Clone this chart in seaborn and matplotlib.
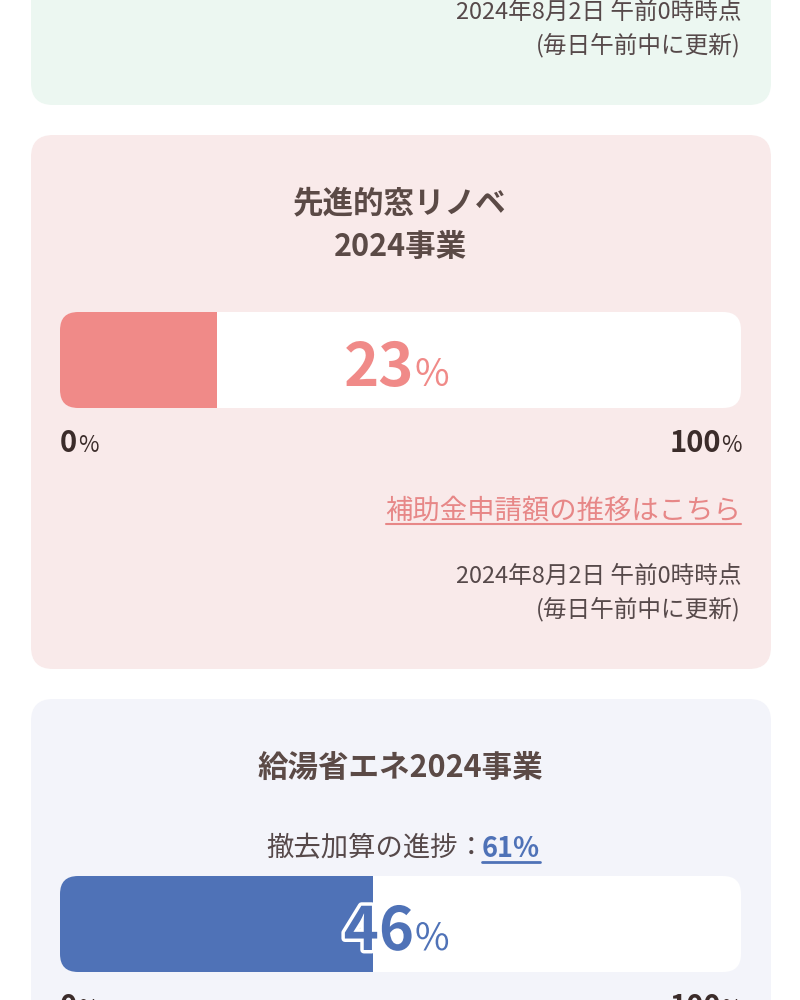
import matplotlib
matplotlib.use("Agg")
import matplotlib.pyplot as plt
import matplotlib.patheffects as pe
from matplotlib.patches import FancyBboxPatch
import seaborn as sns
import pandas as pd

# =====================================================
# DATA
# =====================================================

programs = ["先進的窓リノベ\n2024事業", "給湯省エネ2024事業"]
progress = [23, 46]
removal_label = "撤去加算の進捗："
removal_progress = 61
link_label = "補助金申請額の推移はこちら"
updated_at = "2024年8月2日 午前0時時点"
updated_note = "(毎日午前中に更新)"

# =====================================================
# STYLE
# =====================================================

sns.set_theme(style="white")
plt.rcParams["font.family"] = ["Noto Sans CJK JP", "DejaVu Sans"]

TITLE = "#5b4a46"
DARK = "#3b2c2a"
NOTE = "#56494a"
PINK = "#f08a88"
LINK = "#e78787"
BLUE = "#4f72b7"

fig = plt.figure(figsize=(8, 10), dpi=100)
fig.patch.set_facecolor("white")

# background layer (pixel coordinates, y down)
ax_bg = fig.add_axes([0, 0, 1, 1], zorder=0)
ax_bg.set_xlim(0, 800)
ax_bg.set_ylim(1000, 0)
ax_bg.axis("off")

# text layer on top of everything
ax_fg = fig.add_axes([0, 0, 1, 1], zorder=3)
ax_fg.set_xlim(0, 800)
ax_fg.set_ylim(1000, 0)
ax_fg.axis("off")
ax_fg.patch.set_alpha(0)


def panel(y0, y1, color):
    ax_bg.add_patch(FancyBboxPatch(
        (31, y0), 740, y1 - y0,
        boxstyle="round,pad=0,rounding_size=22",
        facecolor=color, edgecolor="none"
    ))


def progress_bar(top, value, color, outline=False):
    track = FancyBboxPatch(
        (60, top), 681, 96,
        boxstyle="round,pad=0,rounding_size=18",
        facecolor="white", edgecolor="none",
        transform=ax_bg.transData
    )
    ax_bg.add_patch(track)

    ax = fig.add_axes([60 / 800, 1 - (top + 96) / 1000, 681 / 800, 96 / 1000], zorder=2)
    df = pd.DataFrame({"value": [value], "bar": ["p"]})
    sns.barplot(data=df, x="value", y="bar", orient="h", color=color,
                saturation=1, width=1.0, linewidth=0, ax=ax)
    ax.set_xlim(0, 100)
    ax.set_ylim(0.5, -0.5)
    ax.axis("off")
    ax.patch.set_alpha(0)
    for p in ax.patches:
        p.set_clip_path(track)

    base = top + 74
    fx = [pe.withStroke(linewidth=5, foreground="white")] if outline else None
    ax_fg.text(414, base, f"{value}", ha="right", va="baseline", fontsize=43,
               fontweight="bold", color=color, path_effects=fx)
    ax_fg.text(415, base, "%", ha="left", va="baseline", fontsize=27,
               color=color, path_effects=fx)

    # scale labels
    sb = top + 140
    ax_fg.text(60, sb, "0", ha="left", va="baseline", fontsize=21,
               fontweight="bold", color=DARK)
    ax_fg.text(78, sb, "%", ha="left", va="baseline", fontsize=16, color=DARK)
    ax_fg.text(721, sb, "100", ha="right", va="baseline", fontsize=21,
               fontweight="bold", color=DARK)
    ax_fg.text(742, sb, "%", ha="right", va="baseline", fontsize=16, color=DARK)


def update_note(y):
    ax_fg.text(741, y, updated_at, ha="right", va="center", fontsize=17, color=NOTE)
    ax_fg.text(741, y + 33, updated_note, ha="right", va="center", fontsize=17, color=NOTE)


# =====================================================
# PANEL 1 (cut off at the top)
# =====================================================

panel(-100, 105, "#ecf7f1")
update_note(12)

# =====================================================
# PANEL 2
# =====================================================

panel(135, 669, "#f9eaea")

t1, t2 = programs[0].split("\n")
ax_fg.text(400, 203, t1, ha="center", va="center", fontsize=22,
           fontweight="bold", color=TITLE)
ax_fg.text(400, 247, t2, ha="center", va="center", fontsize=22,
           fontweight="bold", color=TITLE)

progress_bar(312, progress[0], PINK)

ax_fg.text(741, 511, link_label, ha="right", va="center", fontsize=19.7, color=LINK)
ax_fg.plot([386, 741], [524, 524], color=LINK, lw=1.5)

update_note(576)

# =====================================================
# PANEL 3
# =====================================================

panel(699, 1100, "#f3f4fa")

ax_fg.text(400, 768, programs[1], ha="center", va="center", fontsize=22,
           fontweight="bold", color=TITLE)

ax_fg.text(485, 849, removal_label, ha="right", va="center", fontsize=19.7, color=NOTE)
ax_fg.text(482, 849, f"{removal_progress}%", ha="left", va="center", fontsize=19.5,
           fontweight="bold", color=BLUE)
ax_fg.plot([482, 540], [862, 862], color=BLUE, lw=2)

progress_bar(876, progress[1], BLUE, outline=True)

plt.savefig("out.png", dpi=100)
plt.close()
